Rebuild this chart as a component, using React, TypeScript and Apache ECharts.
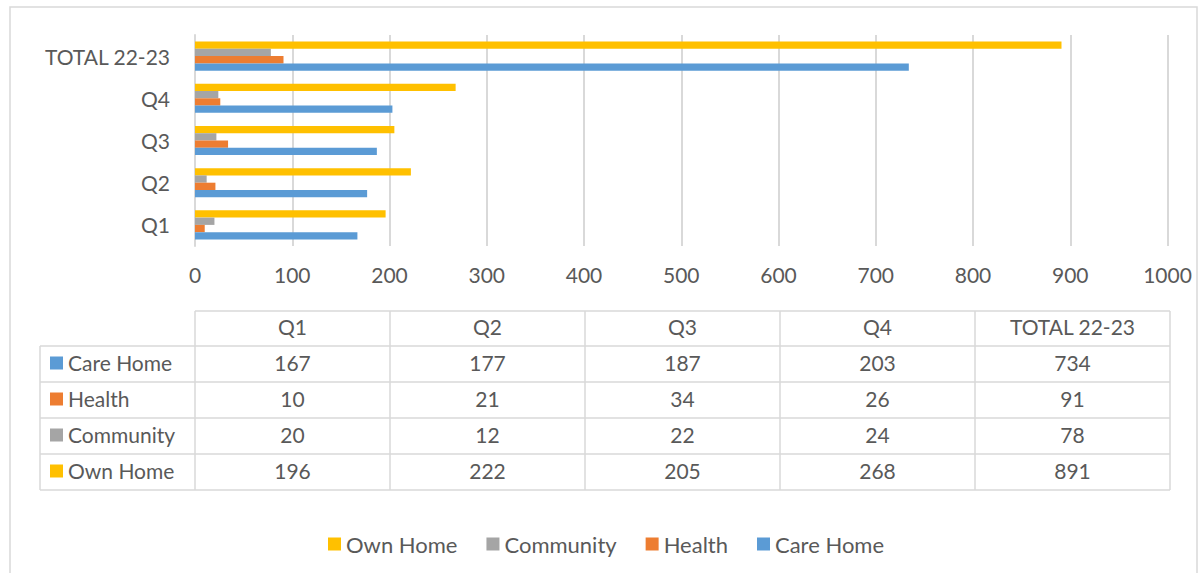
import React, { useEffect, useRef } from "react";
import * as echarts from "echarts";

const categories = ["Q1", "Q2", "Q3", "Q4", "TOTAL 22-23"];
const seriesNames = ["Care Home", "Health", "Community", "Own Home"];
const careHome = [167, 177, 187, 203, 734];
const health = [10, 21, 34, 26, 91];
const community = [20, 12, 22, 24, 78];
const ownHome = [196, 222, 205, 268, 891];
const seriesValues = [careHome, health, community, ownHome];
const colors = ["#5b9bd5", "#ed7d31", "#a5a5a5", "#ffc000"];
const legendOrder = ["Own Home", "Community", "Health", "Care Home"];

const FONT = "Lato, 'Noto Sans', sans-serif";
const TEXT = "#595959";
const LINE = "#d9d9d9";
const FS = 21;

export default function App() {
  const ref = useRef<HTMLDivElement>(null);
  useEffect(() => {
    if (!ref.current) return;
    const chart = echarts.init(ref.current, undefined, { renderer: "svg" });

    const tableLeft = 195;
    const colW = 195;
    const labelLeft = 40;
    const rowTops = [311, 346, 382, 418, 454, 490];
    const tableRight = tableLeft + colW * categories.length;

    const graphics: any[] = [];
    graphics.push({
      type: "rect",
      shape: { x: 10, y: 7, width: 1187, height: 600 },
      style: { fill: "none", stroke: LINE, lineWidth: 1.5 },
      silent: true,
    });
    rowTops.forEach((y, i) => {
      graphics.push({
        type: "line",
        shape: { x1: i === 0 ? tableLeft : labelLeft, y1: y, x2: tableRight, y2: y },
        style: { stroke: LINE, lineWidth: 1.5 },
        silent: true,
      });
    });
    graphics.push({
      type: "line",
      shape: { x1: labelLeft, y1: rowTops[1], x2: labelLeft, y2: rowTops[5] },
      style: { stroke: LINE, lineWidth: 1.5 },
      silent: true,
    });
    for (let c = 0; c <= categories.length; c++) {
      const x = tableLeft + c * colW;
      graphics.push({
        type: "line",
        shape: { x1: x, y1: rowTops[0], x2: x, y2: rowTops[5] },
        style: { stroke: LINE, lineWidth: 1.5 },
        silent: true,
      });
    }
    categories.forEach((cat, c) => {
      graphics.push({
        type: "text",
        x: tableLeft + c * colW + colW / 2,
        y: (rowTops[0] + rowTops[1]) / 2 - 2,
        style: { text: cat, fill: TEXT, font: `${FS}px ${FONT}`, align: "center", verticalAlign: "middle" },
        silent: true,
      });
    });
    seriesNames.forEach((name, r) => {
      const yMid = (rowTops[r + 1] + rowTops[r + 2]) / 2;
      graphics.push({
        type: "rect",
        shape: { x: 50, y: yMid - 7.5, width: 13, height: 13 },
        style: { fill: colors[r] },
        silent: true,
      });
      graphics.push({
        type: "text",
        x: 68,
        y: yMid - 2,
        style: { text: name, fill: TEXT, font: `${FS}px ${FONT}`, align: "left", verticalAlign: "middle" },
        silent: true,
      });
      seriesValues[r].forEach((v, c) => {
        graphics.push({
          type: "text",
          x: tableLeft + c * colW + colW / 2,
          y: yMid - 2,
          style: { text: String(v), fill: TEXT, font: `${FS}px ${FONT}`, align: "center", verticalAlign: "middle" },
          silent: true,
        });
      });
    });

    // bars: first series is drawn at top of each group, so reverse order
    const barOrder = [3, 2, 1, 0];

    chart.setOption({
      animation: false,
      backgroundColor: "#ffffff",
      textStyle: { fontFamily: FONT },
      grid: { left: 195, right: 30.5, top: 35, height: 211, containLabel: false },
      legend: {
        data: legendOrder,
        left: 323,
        top: 528,
        icon: "rect",
        itemWidth: 13,
        itemHeight: 13,
        itemGap: 29,
        textStyle: { color: TEXT, fontSize: FS + 1, fontFamily: FONT },
        selectedMode: false,
      },
      xAxis: {
        type: "value",
        min: 0,
        max: 1000,
        interval: 100,
        axisLine: { show: false },
        axisTick: { show: false },
        splitLine: { show: true, lineStyle: { color: LINE, width: 2 } },
        axisLabel: {
          color: TEXT,
          fontSize: FS,
          fontFamily: FONT,
          margin: 18,
          formatter: (v: number) => String(v),
        },
      },
      yAxis: {
        type: "category",
        data: categories,
        axisLine: { show: true, lineStyle: { color: LINE, width: 2 } },
        axisTick: { show: false },
        axisLabel: { color: TEXT, fontSize: FS, fontFamily: FONT, margin: 25 },
      },
      series: barOrder.map((i) => ({
        name: seriesNames[i],
        type: "bar",
        data: seriesValues[i],
        itemStyle: { color: colors[i] },
        barGap: "0%",
        barCategoryGap: "31%",
      })),
      graphic: graphics,
    });
    return () => chart.dispose();
  }, []);
  return (
    <div
      ref={ref}
      style={{ position: "fixed", left: 0, top: 0, width: 1198, height: 573 }}
    />
  );
}
